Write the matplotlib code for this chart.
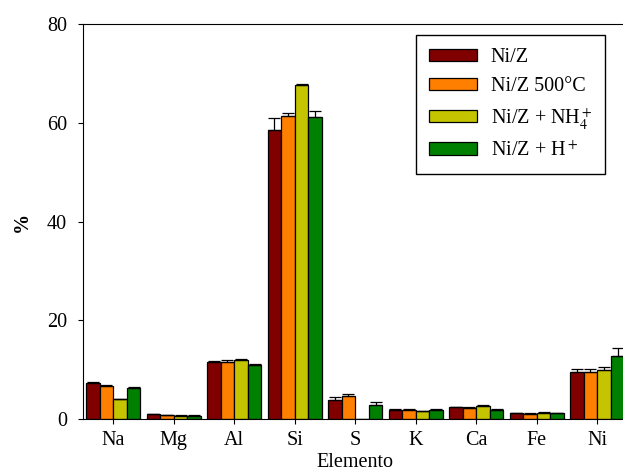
import numpy as np
import matplotlib
matplotlib.use('Agg')
import matplotlib.pyplot as plt

plt.rcParams['font.family'] = ['Liberation Serif', 'DejaVu Serif']
plt.rcParams['mathtext.fontset'] = 'stix'

elements = ['Na', 'Mg', 'Al', 'Si', 'S', 'K', 'Ca', 'Fe', 'Ni']
labels = ['Ni/Z', 'Ni/Z 500°C', 'Ni/Z + NH$_4^+$', 'Ni/Z + H$^+$']
colors = ['#800000', '#ff8000', '#c4c400', '#008000']

niz = [7.2, 0.95, 11.6, 58.5, 3.85, 1.8, 2.35, 1.15, 9.5]
niz_500 = [6.75, 0.75, 11.6, 61.4, 4.65, 1.8, 2.25, 1.05, 9.5]
niz_nh4 = [4.0, 0.7, 11.95, 67.6, 0.0, 1.6, 2.7, 1.3, 9.9]
niz_h = [6.35, 0.7, 11.0, 61.2, 2.8, 1.9, 1.9, 1.2, 12.8]

err_niz = [0.2, 0.15, 0.2, 2.5, 0.55, 0.15, 0.15, 0.1, 0.55]
err_500 = [0.15, 0.1, 0.3, 0.6, 0.35, 0.25, 0.1, 0.1, 0.55]
err_nh4 = [0.15, 0.1, 0.2, 0.35, np.nan, 0.1, 0.15, 0.1, 0.65]
err_h = [0.15, 0.1, 0.15, 1.2, 0.6, 0.1, 0.15, 0.1, 1.55]

series = [niz, niz_500, niz_nh4, niz_h]
errors = [err_niz, err_500, err_nh4, err_h]

fig = plt.figure(figsize=(6.23, 4.71), dpi=100)
ax = fig.add_axes([0.1332, 0.1104, 0.874, 0.8386])

x = np.arange(len(elements))
w = 0.225
for k in range(4):
    e = np.array(errors[k])
    ax.bar(x + (k - 1.5) * w, series[k], w, color=colors[k], edgecolor='black',
           linewidth=0.9, label=labels[k],
           yerr=[np.zeros(len(e)), e],
           error_kw=dict(ecolor='black', elinewidth=0.9, capsize=4, capthick=0.9))

ax.set_xlim(-0.5, 8.5)
ax.set_ylim(0, 80)
ax.set_yticks([0, 20, 40, 60, 80])
ax.set_xticks(x)
ax.set_xticklabels(elements)
ax.tick_params(axis='both', direction='out', length=3.6, width=0.8, labelsize=14.5)
ax.tick_params(axis='y', pad=8)
ax.tick_params(axis='x', pad=5)
ax.tick_params(top=False, right=False)
for s in ax.spines.values():
    s.set_linewidth(0.8)

ax.set_xlabel('Elemento', fontsize=14.5, labelpad=2.5)
ax.set_ylabel('%', fontsize=14.5, fontweight='bold', labelpad=11)

ax.legend(loc='upper left', bbox_to_anchor=(0.6116, 0.973), borderaxespad=0,
          fontsize=14.5, frameon=True, fancybox=False, edgecolor='black',
          framealpha=1, handlelength=2.4, handleheight=0.55, handletextpad=0.65,
          labelspacing=0.5, borderpad=0.65)

fig.savefig('out.png', dpi=100)
